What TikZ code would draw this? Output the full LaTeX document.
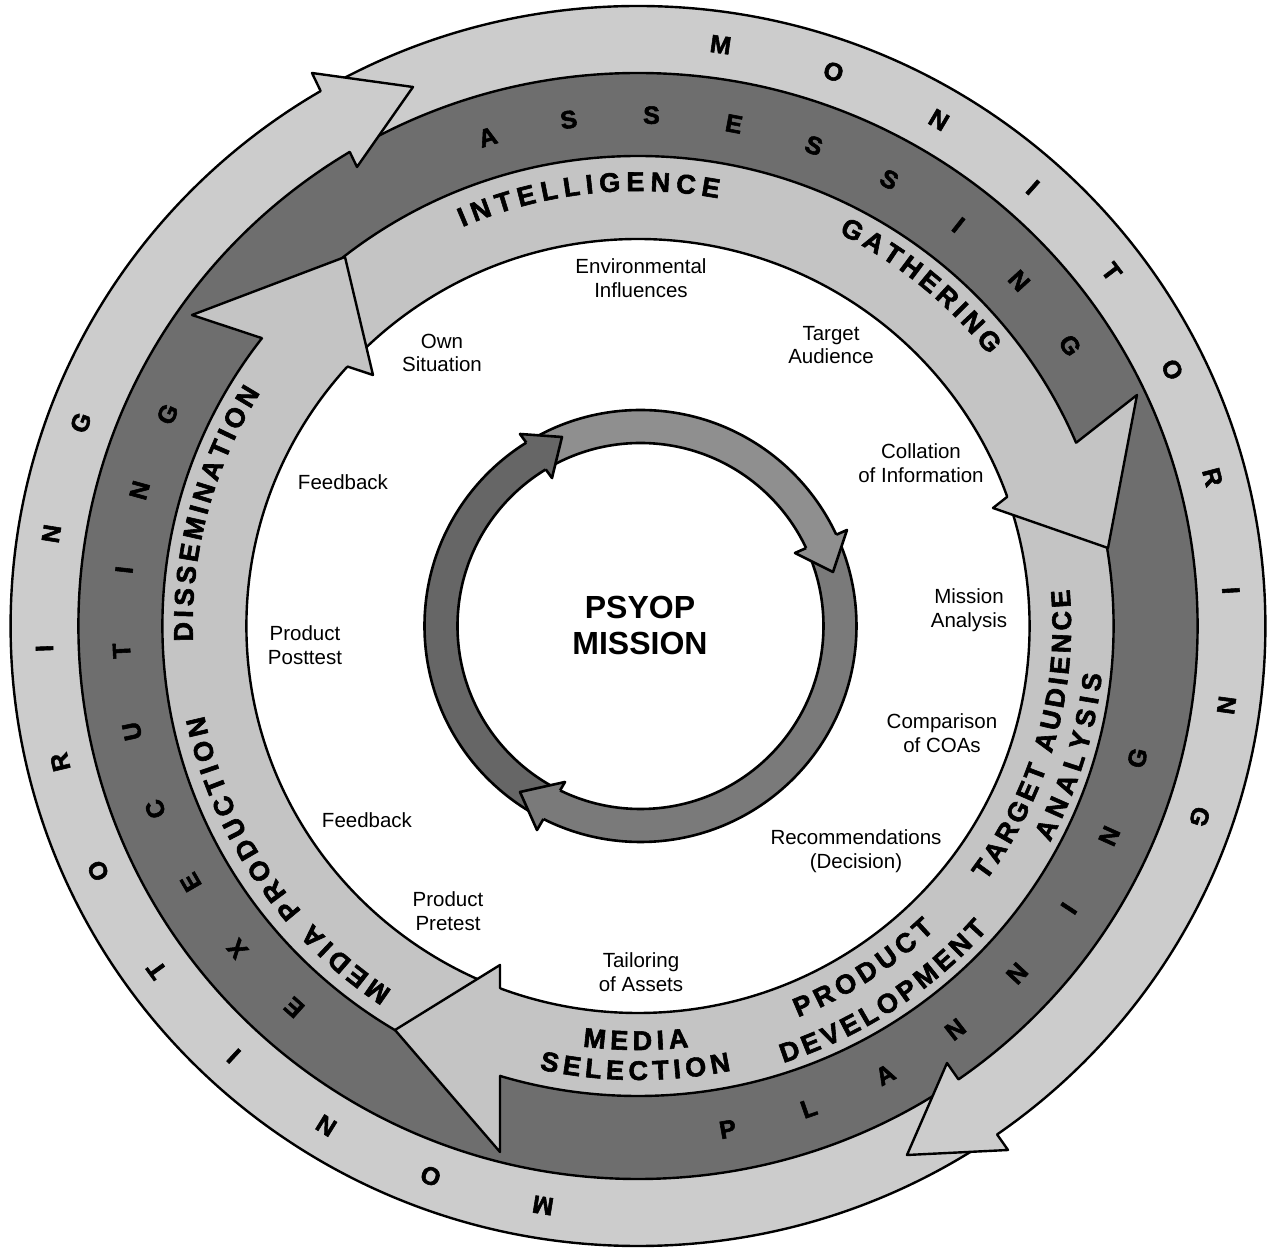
\documentclass[tikz,border=0pt]{standalone}
\usepackage{fontspec}
\setmainfont{Liberation Sans}
\newfontfamily\heavyfont{Liberation Sans}[UprightFont={* Bold}, FakeBold=2.2]
\usetikzlibrary{decorations.text,intersections}
\definecolor{outerc}{gray}{0.80}
\definecolor{darkc}{gray}{0.43}
\definecolor{innerc}{gray}{0.77}
\definecolor{cenA}{gray}{0.40}
\definecolor{cenB}{gray}{0.56}
\definecolor{cenC}{gray}{0.48}
\tikzset{
  ringline/.style={line width=2.4pt, line join=round, line cap=round},
  cenline/.style={line width=2.6pt, line join=round},
  ringletter/.style={font=\heavyfont\fontsize{25}{25}\selectfont, inner sep=0pt},
  plainlabel/.style={font=\fontsize{20.5}{23.5}\selectfont, align=center, inner sep=0pt},
}
\begin{document}
\begin{tikzpicture}[x=1pt,y=1pt]
\path[use as bounding box] (-638,-626) rectangle (632,626);
\fill[white] (-638,-626) rectangle (632,626);

% ---------------- big rings ----------------
\fill[outerc, even odd rule] (0,0) ellipse[x radius=627.4,y radius=620] (0,0) ellipse[x radius=559.6,y radius=553];
\fill[darkc, even odd rule] (0,0) ellipse[x radius=559.6,y radius=553] (0,0) ellipse[x radius=475.6,y radius=470];
\fill[innerc, even odd rule] (0,0) ellipse[x radius=475.6,y radius=470] (0,0) ellipse[x radius=391.6,y radius=387];
\draw[ringline, name path global=cR0] (0,0) ellipse[x radius=627.4,y radius=620];
\draw[ringline, name path global=cR1] (0,0) ellipse[x radius=559.6,y radius=553];
\draw[ringline, name path global=cR2] (0,0) ellipse[x radius=475.6,y radius=470];
\draw[ringline, name path global=cR3] (0,0) ellipse[x radius=391.6,y radius=387];

% ---------------- outer ring heads ----------------
\coordinate (otIb) at (-281,459); \coordinate (otTip) at (-225,539); \coordinate (otOb) at (-326,553);
\path[name path global=otBase] (otIb) -- (otOb);
\path[name intersections={of=cR1 and otBase, by={otNi}}];
\path[name intersections={of=cR0 and otBase, by={otNo}}];
\fill[outerc] (otNi) -- (otIb) -- (otTip) -- (otOb) -- (otNo) -- cycle;
\draw[ringline] (otNi) -- (otIb) -- (otTip) -- (otOb) -- (otNo);

\coordinate (obIb) at (309,-437); \coordinate (obTip) at (269,-529); \coordinate (obOb) at (370,-524);
\path[name path global=obBase] (obIb) -- (obOb);
\path[name intersections={of=cR1 and obBase, by={obNi}}];
\path[name intersections={of=cR0 and obBase, by={obNo}}];
\fill[outerc] (obNi) -- (obIb) -- (obTip) -- (obOb) -- (obNo) -- cycle;
\draw[ringline] (obNi) -- (obIb) -- (obTip) -- (obOb) -- (obNo);

% ---------------- inner ring heads ----------------
\coordinate (dsIb) at (-265,251); \coordinate (dsTip) at (-293,369); \coordinate (dsOb) at (-446,311);
\path[name path global=dsBase] (dsIb) -- (dsOb);
\path[name intersections={of=cR3 and dsBase, by={dsNi}}];
\path[name intersections={of=cR2 and dsBase, by={dsNo}}];
\fill[innerc] (dsNi) -- (dsIb) -- (dsTip) -- (dsOb) -- (dsNo) -- cycle;
\draw[ringline] (dsNi) -- (dsIb) -- (dsTip) -- (dsOb) -- (dsNo);

\coordinate (gtIb) at (355,118); \coordinate (gtTip) at (470,78); \coordinate (gtOb) at (499,231);
\path[name path global=gtBase] (gtIb) -- (gtOb);
\path[name intersections={of=cR3 and gtBase, by={gtNi}}];
\path[name intersections={of=cR2 and gtBase, by={gtNo}}];
\fill[innerc] (gtNi) -- (gtIb) -- (gtTip) -- (gtOb) -- (gtNo) -- cycle;
\draw[ringline] (gtNi) -- (gtIb) -- (gtTip) -- (gtOb) -- (gtNo);

\coordinate (msIb) at (-138,-339); \coordinate (msTip) at (-243,-404); \coordinate (msOb) at (-138,-526);
\path[name path global=msBase] (msIb) -- (msOb);
\path[name intersections={of=cR3 and msBase, by={msNi}}];
\path[name intersections={of=cR2 and msBase, by={msNo}}];
\fill[innerc] (msNi) -- (msIb) -- (msTip) -- (msOb) -- (msNo) -- cycle;
\draw[ringline] (msNi) -- (msIb) -- (msTip) -- (msOb) -- (msNo);

% ---------------- ring letters ----------------
\foreach \ch [count=\i] in {M,O,N,I,T,O,R,I,N,G}{
  \pgfmathsetmacro\a{82-(\i-1)*11.22}
  \node[ringletter, rotate=\a-90] (monR\i) at (\a:594 and 587) {\ch};
}
\foreach \ch [count=\i] in {M,O,N,I,T,O,R,I,N,G}{
  \pgfmathsetmacro\a{260.8-(\i-1)*11.23}
  \node[ringletter, rotate=\a-90] (monL\i) at (\a:594 and 587) {\ch};
}
\foreach \ch [count=\i] in {A,S,S,E,S,S,I,N,G}{
  \pgfmathsetmacro\a{106.9-(\i-1)*9.2}
  \node[ringletter, rotate=\a-90] (ass\i) at (\a:517 and 511) {\ch};
}
\foreach \ch [count=\i] in {E,X,E,C,U,T,I,N,G}{
  \pgfmathsetmacro\a{228.3-(\i-1)*9.1}
  \node[ringletter, rotate=\a-90] (exe\i) at (\a:517 and 511) {\ch};
}
\foreach \ch [count=\i] in {P,L,A,N,N,I,N,G}{
  \pgfmathsetmacro\a{-80+(\i-1)*9.29}
  \node[ringletter, rotate=\a+90] (pla\i) at (\a:517 and 511) {\ch};
}

% ---------------- inner ring curved labels ----------------
\path[decorate, decoration={text along path, text align={fit to path}, text={|\heavyfont\fontsize{27}{27}\selectfont|INTELLIGENCE}}]
  (113.5:440.2 and 435) arc[start angle=113.5, end angle=79.5, x radius=440.2, y radius=435];
\path[decorate, decoration={text along path, text align={fit to path}, text={|\heavyfont\fontsize{27}{27}\selectfont|GATHERING}}]
  (63.2:445.3 and 440) arc[start angle=63.2, end angle=38, x radius=445.3, y radius=440];
\path[decorate, decoration={text along path, text align={fit to path}, text={|\heavyfont\fontsize{27}{27}\selectfont|TARGET AUDIENCE}}]
  (-36.6:433.1 and 428) arc[start angle=-36.6, end angle=4.9, x radius=433.1, y radius=428];
\path[decorate, decoration={text along path, text align={fit to path}, text={|\heavyfont\fontsize{27}{27}\selectfont|ANALYSIS}}]
  (-28:466.5 and 461) arc[start angle=-28, end angle=-6, x radius=466.5, y radius=461];
\path[decorate, decoration={text along path, text align={fit to path}, text={|\heavyfont\fontsize{27}{27}\selectfont|PRODUCT}}]
  (-68:427.1 and 422) arc[start angle=-68, end angle=-46, x radius=427.1, y radius=422];
\path[decorate, decoration={text along path, text align={fit to path}, text={|\heavyfont\fontsize{27}{27}\selectfont|DEVELOPMENT}}]
  (-71.8:465.5 and 460) arc[start angle=-71.8, end angle=-41.3, x radius=465.5, y radius=460];
\path[decorate, decoration={text along path, text align={fit to path}, text={|\heavyfont\fontsize{27}{27}\selectfont|MEDIA}}]
  (-97.4:429.1 and 424) arc[start angle=-97.4, end angle=-83.2, x radius=429.1, y radius=424];
\path[decorate, decoration={text along path, text align={fit to path}, text={|\heavyfont\fontsize{27}{27}\selectfont|SELECTION}}]
  (-102.4:459.4 and 454) arc[start angle=-102.4, end angle=-78.3, x radius=459.4, y radius=454];
\path[decorate, decoration={text along path, text align={fit to path}, text={|\heavyfont\fontsize{27}{27}\selectfont|MEDIA PRODUCTION}}]
  (236.3:443.3 and 438) arc[start angle=236.3, end angle=191.8, x radius=443.3, y radius=438];
\path[decorate, decoration={text along path, text align={fit to path}, text={|\heavyfont\fontsize{27}{27}\selectfont|DISSEMINATION}}]
  (182:445.3 and 440) arc[start angle=182, end angle=148, x radius=445.3, y radius=440];

% ---------------- central ring ----------------
\begin{scope}[shift={(2.5,0)}]
  \fill[cenA] (118.6:216) arc[start angle=118.6, end angle=240.6, radius=216] -- (240.6:183) arc[start angle=240.6, end angle=118.6, radius=183] -- cycle;
  \fill[cenB] (22.1:216) arc[start angle=22.1, end angle=118.6, radius=216] -- (118.6:183) arc[start angle=118.6, end angle=22.1, radius=183] -- cycle;
  \fill[cenC] (240.6:216) arc[start angle=240.6, end angle=382.1, radius=216] -- (382.1:183) arc[start angle=382.1, end angle=240.6, radius=183] -- cycle;
  \draw[cenline, name path global=cc1] (0,0) circle[radius=216];
  \draw[cenline, name path global=cc2] (0,0) circle[radius=183];
\end{scope}

\coordinate (cuIb) at (-86,148); \coordinate (cuTip) at (-76,189); \coordinate (cuOb) at (-118,192);
\path[name path global=cuBase] (cuIb) -- (cuOb);
\path[name intersections={of=cc2 and cuBase, by={cuNi}}];
\path[name intersections={of=cc1 and cuBase, by={cuNo}}];
\fill[cenA] (cuNi) -- (cuIb) -- (cuTip) -- (cuOb) -- (cuNo) -- cycle;
\draw[cenline] (cuNi) -- (cuIb) -- (cuTip) -- (cuOb) -- (cuNo);

\coordinate (crIb) at (157,73); \coordinate (crTip) at (195,54); \coordinate (crOb) at (209,96);
\path[name path global=crBase] (crIb) -- (crOb);
\path[name intersections={of=cc2 and crBase, by={crNi}}];
\path[name intersections={of=cc1 and crBase, by={crNo}}];
\fill[cenB] (crNi) -- (crIb) -- (crTip) -- (crOb) -- (crNo) -- cycle;
\draw[cenline] (crNi) -- (crIb) -- (crTip) -- (crOb) -- (crNo);

\coordinate (clIb) at (-73,-156); \coordinate (clTip) at (-118,-166); \coordinate (clOb) at (-101,-204);
\path[name path global=clBase] (clIb) -- (clOb);
\path[name intersections={of=cc2 and clBase, by={clNi}}];
\path[name intersections={of=cc1 and clBase, by={clNo}}];
\fill[cenC] (clNi) -- (clIb) -- (clTip) -- (clOb) -- (clNo) -- cycle;
\draw[cenline] (clNi) -- (clIb) -- (clTip) -- (clOb) -- (clNo);

\node[font=\bfseries\fontsize{32}{36}\selectfont, align=center, inner sep=0pt] (mission) at (2,1) {PSYOP\\MISSION};

% ---------------- inner labels ----------------
\node[plainlabel] (envinf) at (3,348) {Environmental\\Influences};
\node[plainlabel] (ownsit) at (-196,273) {Own\\Situation};
\node[plainlabel] (taraud) at (193,281) {Target\\Audience};
\node[plainlabel] (collat) at (283,163) {Collation\\of Information};
\node[plainlabel] (feedA) at (-295,144) {Feedback};
\node[plainlabel] (misana) at (331,16) {Mission\\Analysis};
\node[plainlabel] (posttest) at (-333,-19) {Product\\Posttest};
\node[plainlabel] (compar) at (304,-107) {Comparison\\of COAs};
\node[plainlabel] (feedB) at (-271,-194) {Feedback};
\node[plainlabel] (recomm) at (218,-225) {Recommendations\\(Decision)};
\node[plainlabel] (pretest) at (-190,-285) {Product\\Pretest};
\node[plainlabel] (tailor) at (3,-346) {Tailoring\\of Assets};
\end{tikzpicture}
\end{document}
